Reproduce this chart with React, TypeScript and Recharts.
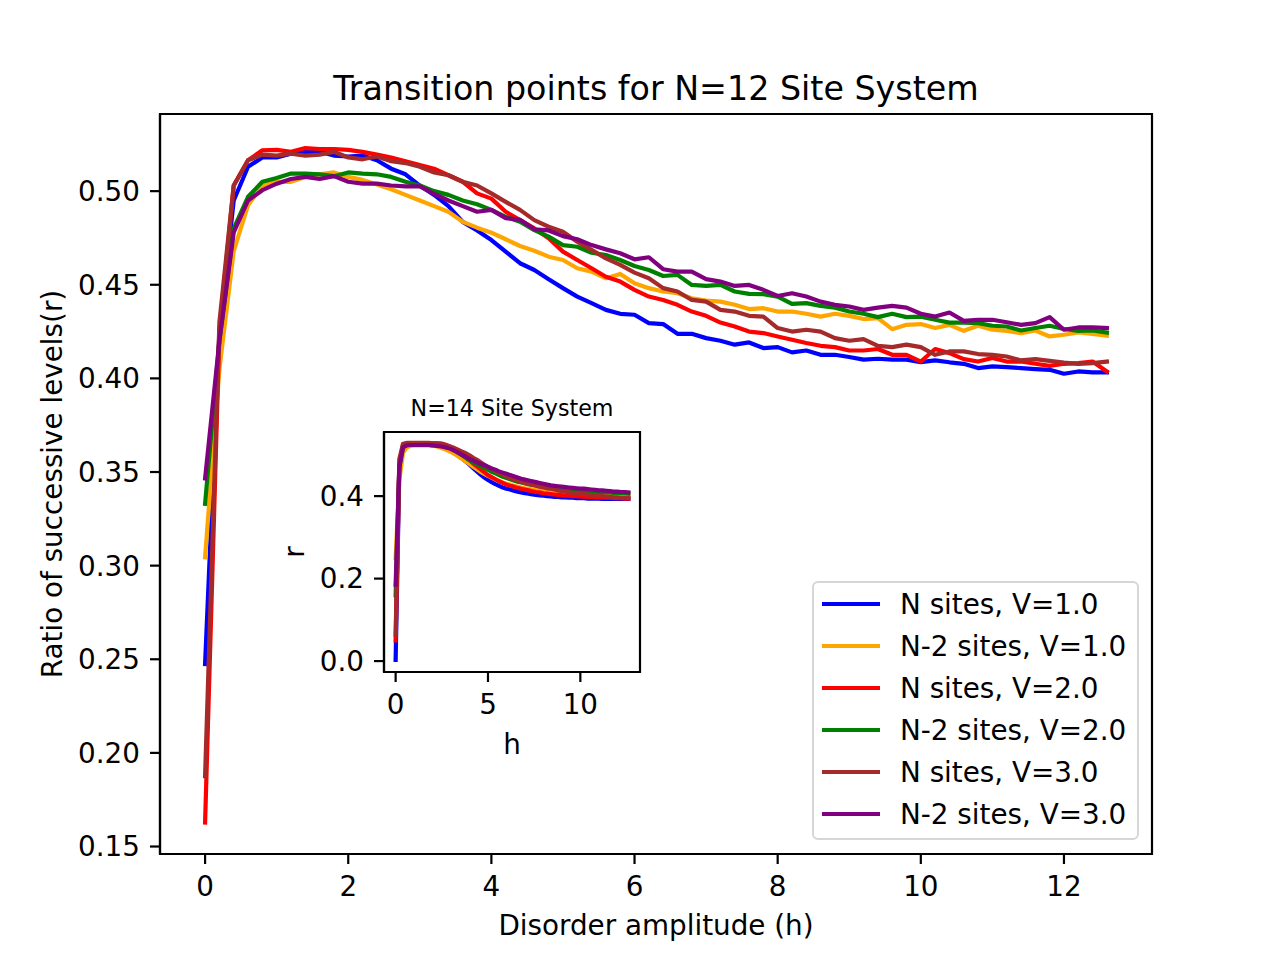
import { LineChart, Line, XAxis, YAxis, Legend, ReferenceArea } from "recharts"

const FONT = "DejaVu Sans"

// disorder amplitude h, shared by both panels
const H = [
    0, 0.2, 0.4, 0.6, 0.8, 1.0, 1.2, 1.4, 1.6, 1.8,
    2.0, 2.2, 2.4, 2.6, 2.8, 3.0, 3.2, 3.4, 3.6, 3.8,
    4.0, 4.2, 4.4, 4.6, 4.8, 5.0, 5.2, 5.4, 5.6, 5.8,
    6.0, 6.2, 6.4, 6.6, 6.8, 7.0, 7.2, 7.4, 7.6, 7.8,
    8.0, 8.2, 8.4, 8.6, 8.8, 9.0, 9.2, 9.4, 9.6, 9.8,
    10.0, 10.2, 10.4, 10.6, 10.8, 11.0, 11.2, 11.4, 11.6, 11.8,
    12.0, 12.2, 12.4, 12.6,
]

// N=12 panel
const N_V1 = [
    0.2475, 0.425, 0.495, 0.513, 0.518, 0.518, 0.52, 0.521, 0.521, 0.519,
    0.5185, 0.519, 0.5165, 0.512, 0.509, 0.503, 0.498, 0.492, 0.4836, 0.479,
    0.4739, 0.4677, 0.4615, 0.4579, 0.453, 0.4482, 0.4437, 0.4402, 0.4366, 0.4345,
    0.434, 0.4295, 0.429, 0.4238, 0.4238, 0.4215, 0.4201, 0.418, 0.4192, 0.4162,
    0.4167, 0.4139, 0.4149, 0.4126, 0.4126, 0.4114, 0.41, 0.4105, 0.41, 0.41,
    0.4087, 0.4096, 0.4086, 0.4078, 0.4055, 0.4064, 0.406, 0.4055, 0.405, 0.4046,
    0.4025, 0.4037, 0.4032, 0.4032,
]
const N2_V1 = [
    0.3045, 0.405, 0.468, 0.4925, 0.503, 0.505, 0.505, 0.5076, 0.509, 0.51,
    0.5076, 0.506, 0.5035, 0.501, 0.498, 0.495, 0.492, 0.489, 0.4836, 0.4805,
    0.4778, 0.4743, 0.4707, 0.4682, 0.465, 0.4632, 0.4588, 0.457, 0.4535, 0.4558,
    0.4508, 0.4482, 0.4464, 0.4455, 0.4428, 0.4416, 0.441, 0.4393, 0.437, 0.4375,
    0.4357, 0.4357, 0.4345, 0.433, 0.4345, 0.4334, 0.4317, 0.4322, 0.4263, 0.4286,
    0.429, 0.4269, 0.4286, 0.4254, 0.4281, 0.426, 0.4254, 0.4242, 0.4256, 0.4224,
    0.4233, 0.4245, 0.4238, 0.4228,
]
const N_V2 = [
    0.1628, 0.425, 0.503, 0.5165, 0.5218, 0.522, 0.521, 0.523, 0.5225, 0.5225,
    0.522, 0.521, 0.5195, 0.518, 0.516, 0.5139, 0.512, 0.5085, 0.505, 0.4988,
    0.496, 0.489, 0.4845, 0.4801, 0.4748, 0.4677, 0.4632, 0.4588, 0.4543, 0.4517,
    0.4473, 0.4437, 0.4419, 0.4393, 0.4357, 0.4334, 0.4298, 0.4277, 0.425, 0.4242,
    0.4224, 0.4206, 0.4189, 0.4174, 0.4167, 0.4149, 0.4149, 0.4157, 0.4126, 0.4126,
    0.409, 0.4157, 0.4135, 0.4103, 0.409, 0.4109, 0.409, 0.409, 0.4078, 0.4067,
    0.4078, 0.4082, 0.409, 0.4037,
]
const N2_V2 = [
    0.333, 0.42, 0.48, 0.497, 0.505, 0.507, 0.5094, 0.5094, 0.509, 0.508,
    0.51, 0.5094, 0.509, 0.5076, 0.505, 0.503, 0.5, 0.498, 0.495, 0.493,
    0.49, 0.4863, 0.4837, 0.4792, 0.4757, 0.4712, 0.4703, 0.4671, 0.4659, 0.4632,
    0.46, 0.4579, 0.4547, 0.4553, 0.4499, 0.4494, 0.4499, 0.4464, 0.4451, 0.445,
    0.4437, 0.4398, 0.4402, 0.4387, 0.4378, 0.4357, 0.4345, 0.4327, 0.4345, 0.4327,
    0.433, 0.4313, 0.4298, 0.4298, 0.4295, 0.4281, 0.4277, 0.4256, 0.4269, 0.4281,
    0.4264, 0.4254, 0.4256, 0.4245,
]
const N_V3 = [
    0.1876, 0.43, 0.503, 0.5165, 0.5195, 0.519, 0.52, 0.519, 0.5195, 0.521,
    0.518, 0.517, 0.5185, 0.516, 0.515, 0.513, 0.51, 0.5085, 0.505, 0.503,
    0.4988, 0.4943, 0.49, 0.4845, 0.481, 0.4783, 0.473, 0.4686, 0.4641, 0.4606,
    0.4565, 0.4535, 0.4482, 0.4464, 0.4419, 0.441, 0.4366, 0.4357, 0.4334, 0.433,
    0.4269, 0.425, 0.426, 0.425, 0.4215, 0.4201, 0.421, 0.4174, 0.4167, 0.418,
    0.4167, 0.4126, 0.4144, 0.4144, 0.413, 0.4126, 0.4117, 0.4096, 0.4103, 0.4094,
    0.4085, 0.4078, 0.4082, 0.409,
]
const N2_V3 = [
    0.3466, 0.42, 0.478, 0.495, 0.5005, 0.504, 0.5065, 0.5076, 0.5065, 0.508,
    0.505, 0.504, 0.504, 0.503, 0.5025, 0.5025, 0.4985, 0.495, 0.492, 0.489,
    0.49, 0.4856, 0.4847, 0.4796, 0.479, 0.476, 0.4743, 0.4712, 0.4689, 0.4668,
    0.4636, 0.4647, 0.4583, 0.457, 0.457, 0.453, 0.4517, 0.4494, 0.4499, 0.4473,
    0.444, 0.4455, 0.4437, 0.441, 0.4393, 0.4384, 0.4366, 0.4378, 0.4387, 0.4378,
    0.4345, 0.433, 0.4352, 0.4307, 0.4313, 0.4313, 0.43, 0.4286, 0.4295, 0.4327,
    0.426, 0.4272, 0.4272, 0.4269,
]

// N=14 inset
const IN_N_V1 = [
    0.003, 0.47, 0.515, 0.522, 0.524, 0.525, 0.525, 0.525, 0.524, 0.524,
    0.523, 0.522, 0.52, 0.518, 0.515, 0.511, 0.505, 0.498, 0.491, 0.484,
    0.476, 0.468, 0.46, 0.452, 0.445, 0.439, 0.434, 0.429, 0.425, 0.421,
    0.418, 0.416, 0.413, 0.411, 0.409, 0.407, 0.406, 0.404, 0.403, 0.402,
    0.401, 0.4, 0.399, 0.398, 0.398, 0.397, 0.397, 0.396, 0.396, 0.395,
    0.395, 0.395, 0.394, 0.394, 0.394, 0.394, 0.393, 0.393, 0.393, 0.393,
    0.393, 0.393, 0.393, 0.393,
]
const IN_N2_V1 = [
    0.25, 0.44, 0.505, 0.518, 0.522, 0.523, 0.523, 0.523, 0.523, 0.523,
    0.522, 0.521, 0.518, 0.515, 0.511, 0.507, 0.502, 0.496, 0.49, 0.484,
    0.478, 0.471, 0.465, 0.459, 0.454, 0.449, 0.445, 0.441, 0.437, 0.433,
    0.43, 0.428, 0.425, 0.423, 0.421, 0.419, 0.418, 0.416, 0.415, 0.414,
    0.413, 0.412, 0.411, 0.41, 0.409, 0.409, 0.408, 0.408, 0.407, 0.407,
    0.406, 0.406, 0.406, 0.405, 0.405, 0.405, 0.404, 0.404, 0.404, 0.404,
    0.403, 0.403, 0.403, 0.403,
]
const IN_N_V2 = [
    0.05, 0.48, 0.525, 0.528, 0.528, 0.528, 0.528, 0.528, 0.528, 0.528,
    0.528, 0.528, 0.527, 0.526, 0.523, 0.519, 0.514, 0.508, 0.501, 0.494,
    0.487, 0.479, 0.472, 0.465, 0.458, 0.451, 0.446, 0.441, 0.436, 0.432,
    0.428, 0.425, 0.423, 0.42, 0.418, 0.416, 0.414, 0.412, 0.41, 0.409,
    0.407, 0.406, 0.405, 0.404, 0.403, 0.402, 0.401, 0.401, 0.4, 0.4,
    0.399, 0.399, 0.398, 0.398, 0.397, 0.397, 0.396, 0.396, 0.396, 0.395,
    0.395, 0.395, 0.394, 0.394,
]
const IN_N2_V2 = [
    0.16, 0.47, 0.52, 0.524, 0.525, 0.525, 0.525, 0.525, 0.525, 0.525,
    0.525, 0.525, 0.524, 0.522, 0.519, 0.515, 0.51, 0.505, 0.499, 0.493,
    0.487, 0.482, 0.477, 0.473, 0.469, 0.464, 0.459, 0.455, 0.451, 0.447,
    0.444, 0.441, 0.438, 0.435, 0.433, 0.431, 0.429, 0.427, 0.426, 0.424,
    0.423, 0.422, 0.421, 0.42, 0.419, 0.418, 0.417, 0.416, 0.415, 0.414,
    0.414, 0.413, 0.412, 0.412, 0.411, 0.41, 0.41, 0.409, 0.409, 0.408,
    0.408, 0.407, 0.407, 0.406,
]
const IN_N_V3 = [
    0.064, 0.49, 0.527, 0.529, 0.529, 0.529, 0.529, 0.529, 0.529, 0.529,
    0.528, 0.528, 0.528, 0.526, 0.523, 0.52, 0.516, 0.512, 0.508, 0.504,
    0.499, 0.493, 0.488, 0.482, 0.476, 0.471, 0.466, 0.461, 0.456, 0.452,
    0.448, 0.444, 0.441, 0.438, 0.435, 0.432, 0.43, 0.427, 0.425, 0.423,
    0.421, 0.419, 0.418, 0.416, 0.414, 0.412, 0.411, 0.409, 0.408, 0.407,
    0.406, 0.405, 0.404, 0.403, 0.402, 0.401, 0.4, 0.399, 0.398, 0.397,
    0.397, 0.396, 0.396, 0.395,
]
const IN_N2_V3 = [
    0.185, 0.47, 0.518, 0.523, 0.524, 0.524, 0.524, 0.524, 0.524, 0.524,
    0.523, 0.522, 0.521, 0.519, 0.517, 0.514, 0.51, 0.505, 0.5, 0.495,
    0.49, 0.486, 0.482, 0.478, 0.475, 0.471, 0.467, 0.464, 0.46, 0.457,
    0.454, 0.451, 0.448, 0.445, 0.442, 0.44, 0.438, 0.436, 0.434, 0.432,
    0.43, 0.428, 0.426, 0.425, 0.424, 0.423, 0.422, 0.421, 0.42, 0.419,
    0.418, 0.418, 0.417, 0.416, 0.415, 0.414, 0.414, 0.413, 0.412, 0.411,
    0.411, 0.41, 0.41, 0.409,
]

const MAIN_X_TICKS = [0, 2, 4, 6, 8, 10, 12]
const MAIN_Y_TICKS = [0.15, 0.2, 0.25, 0.3, 0.35, 0.4, 0.45, 0.5]
const INSET_X_TICKS = [0, 5, 10]
const INSET_Y_TICKS = [0, 0.2, 0.4]

const SERIES = [
    { key: "nV1", name: "N sites, V=1.0", color: "#0000ff" },
    { key: "n2V1", name: "N-2 sites, V=1.0", color: "#ffa500" },
    { key: "nV2", name: "N sites, V=2.0", color: "#ff0000" },
    { key: "n2V2", name: "N-2 sites, V=2.0", color: "#008000" },
    { key: "nV3", name: "N sites, V=3.0", color: "#a52a2a" },
    { key: "n2V3", name: "N-2 sites, V=3.0", color: "#800080" },
]

const mainRows = H.map((h, i) => ({
    h,
    nV1: N_V1[i],
    n2V1: N2_V1[i],
    nV2: N_V2[i],
    n2V2: N2_V2[i],
    nV3: N_V3[i],
    n2V3: N2_V3[i],
}))

const insetRows = H.map((h, i) => ({
    h,
    nV1: IN_N_V1[i],
    n2V1: IN_N2_V1[i],
    nV2: IN_N_V2[i],
    n2V2: IN_N2_V2[i],
    nV3: IN_N_V3[i],
    n2V3: IN_N2_V3[i],
}))

const MAIN_X_DOMAIN = [-0.63, 13.23]
const MAIN_Y_DOMAIN = [0.146, 0.5412]
const INSET_X_DOMAIN = [-0.63, 13.23]
const INSET_Y_DOMAIN = [-0.0265, 0.5555]

const TICK = { fill: "#000", fontSize: 27.8, fontFamily: FONT }
const AXIS_LINE = { stroke: "#000", strokeWidth: 2.2 }

// legend keeps the plotting order, not recharts' sorted payload
const LegendBox = ({ payload }: any) => {
    const byName: Record<string, string> = {}
    ;(payload || []).forEach((p: any) => (byName[p.value] = p.color))
    return (
        <div
            style={{
                width: 327,
                height: 259,
                boxSizing: "border-box",
                border: "2px solid #d6d6d6",
                borderRadius: 6,
                background: "rgba(255,255,255,0.8)",
                fontFamily: FONT,
                fontSize: 27.8,
                color: "#000",
            }}
        >
            {SERIES.map((s) => (
                <div
                    key={s.key}
                    style={{ display: "flex", alignItems: "center", height: 42 }}
                >
                    <div
                        style={{
                            marginLeft: 8,
                            width: 58,
                            height: 4.2,
                            background: byName[s.name] || s.color,
                        }}
                    />
                    <span style={{ marginLeft: 20, whiteSpace: "nowrap" }}>
                        {s.name}
                    </span>
                </div>
            ))}
        </div>
    )
}

function seriesLines(width: number) {
    return SERIES.map((s) => (
        <Line
            key={s.key}
            type="linear"
            dataKey={s.key}
            name={s.name}
            stroke={s.color}
            strokeWidth={width}
            strokeLinejoin="round"
            strokeLinecap="square"
            dot={false}
            activeDot={false}
            isAnimationActive={false}
        />
    ))
}

export default function App() {
    return (
        <div
            style={{
                position: "absolute",
                left: 0,
                top: 0,
                width: 1280,
                height: 960,
                background: "#fff",
                fontFamily: FONT,
            }}
        >
            <div style={{ position: "absolute", left: 0, top: 0 }}>
                <LineChart
                    width={1280}
                    height={960}
                    data={mainRows}
                    margin={{ top: 114, right: 128, bottom: 46, left: 80 }}
                >
                    <XAxis
                        dataKey="h"
                        type="number"
                        domain={MAIN_X_DOMAIN}
                        ticks={MAIN_X_TICKS}
                        allowDataOverflow
                        height={60}
                        tickSize={10}
                        tickMargin={12}
                        tick={TICK}
                        axisLine={AXIS_LINE}
                        tickLine={AXIS_LINE}
                        label={({ viewBox }: any) => (
                            <text
                                x={viewBox.x + viewBox.width / 2}
                                y={935}
                                textAnchor="middle"
                                fontSize={27.8}
                                fontFamily={FONT}
                                fill="#000"
                            >
                                Disorder amplitude (h)
                            </text>
                        )}
                    />
                    <YAxis
                        type="number"
                        domain={MAIN_Y_DOMAIN}
                        ticks={MAIN_Y_TICKS}
                        allowDataOverflow
                        width={80}
                        tickSize={10}
                        tickMargin={10}
                        tick={TICK}
                        tickFormatter={(v: number) => v.toFixed(2)}
                        axisLine={AXIS_LINE}
                        tickLine={AXIS_LINE}
                        label={({ viewBox }: any) => {
                            const cy = viewBox.y + viewBox.height / 2
                            return (
                                <text
                                    x={62}
                                    y={cy}
                                    transform={`rotate(-90, 62, ${cy})`}
                                    textAnchor="middle"
                                    fontSize={27.8}
                                    fontFamily={FONT}
                                    fill="#000"
                                >
                                    Ratio of successive levels(r)
                                </text>
                            )
                        }}
                    />
                    {seriesLines(4.2)}
                    <ReferenceArea
                        x1={MAIN_X_DOMAIN[0]}
                        x2={MAIN_X_DOMAIN[1]}
                        y1={MAIN_Y_DOMAIN[0]}
                        y2={MAIN_Y_DOMAIN[1]}
                        fill="none"
                        fillOpacity={0}
                        stroke="#000"
                        strokeWidth={2.2}
                        ifOverflow="visible"
                    />
                    <Legend
                        layout="vertical"
                        align="center"
                        verticalAlign="middle"
                        content={<LegendBox />}
                        wrapperStyle={{ left: 812, top: 581, width: 327, height: 259 }}
                    />
                </LineChart>
            </div>

            <div style={{ position: "absolute", left: 0, top: 0 }}>
                <LineChart
                    width={1280}
                    height={960}
                    data={insetRows}
                    margin={{ top: 432, right: 640, bottom: 238, left: 324 }}
                >
                    <XAxis
                        dataKey="h"
                        type="number"
                        domain={INSET_X_DOMAIN}
                        ticks={INSET_X_TICKS}
                        allowDataOverflow
                        height={50}
                        tickSize={10}
                        tickMargin={12}
                        tick={TICK}
                        axisLine={AXIS_LINE}
                        tickLine={AXIS_LINE}
                        label={({ viewBox }: any) => (
                            <text
                                x={viewBox.x + viewBox.width / 2}
                                y={754}
                                textAnchor="middle"
                                fontSize={27.8}
                                fontFamily={FONT}
                                fill="#000"
                            >
                                h
                            </text>
                        )}
                    />
                    <YAxis
                        type="number"
                        domain={INSET_Y_DOMAIN}
                        ticks={INSET_Y_TICKS}
                        allowDataOverflow
                        width={60}
                        tickSize={10}
                        tickMargin={10}
                        tick={TICK}
                        tickFormatter={(v: number) => v.toFixed(1)}
                        axisLine={AXIS_LINE}
                        tickLine={AXIS_LINE}
                        label={({ viewBox }: any) => {
                            const cy = viewBox.y + viewBox.height / 2
                            return (
                                <text
                                    x={304}
                                    y={cy}
                                    transform={`rotate(-90, 304, ${cy})`}
                                    textAnchor="middle"
                                    fontSize={27.8}
                                    fontFamily={FONT}
                                    fill="#000"
                                >
                                    r
                                </text>
                            )
                        }}
                    />
                    {seriesLines(4.2)}
                    <ReferenceArea
                        x1={INSET_X_DOMAIN[0]}
                        x2={INSET_X_DOMAIN[1]}
                        y1={INSET_Y_DOMAIN[0]}
                        y2={INSET_Y_DOMAIN[1]}
                        fill="none"
                        fillOpacity={0}
                        stroke="#000"
                        strokeWidth={2.2}
                        ifOverflow="visible"
                    />
                </LineChart>
            </div>

            <svg
                width={1280}
                height={960}
                style={{ position: "absolute", left: 0, top: 0, pointerEvents: "none" }}
            >
                <text
                    x={656}
                    y={100}
                    textAnchor="middle"
                    fontSize={33.3}
                    fontFamily={FONT}
                    fill="#000"
                >
                    Transition points for N=12 Site System
                </text>
                <text
                    x={512}
                    y={416}
                    textAnchor="middle"
                    fontSize={22.2}
                    fontFamily={FONT}
                    fill="#000"
                >
                    N=14 Site System
                </text>
            </svg>
        </div>
    )
}
